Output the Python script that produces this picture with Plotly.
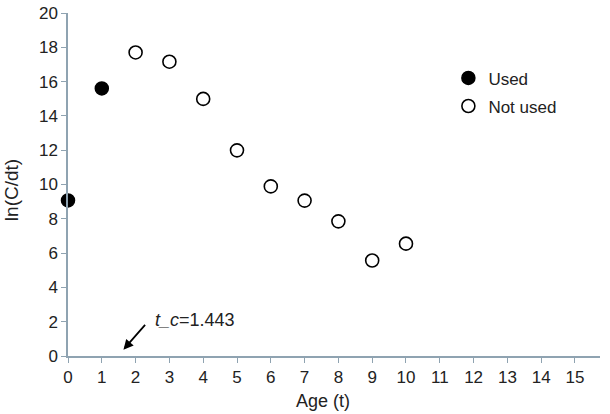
import plotly.graph_objects as go

age_used = [0, 1]
ln_used = [9.07, 15.6]
age_not_used = [2, 3, 4, 5, 6, 7, 8, 9, 10]
ln_not_used = [17.7, 17.16, 14.99, 11.99, 9.89, 9.06, 7.85, 5.57, 6.55]
x_ticks = list(range(0, 16))
y_ticks = list(range(0, 21, 2))
tc_label = "<i>t_c</i>=1.443"
x_title = "Age (t)"
y_title = "ln(C/dt)"

axis_color = "#8fa3b1"
fam = "Liberation Sans, Arial, sans-serif"
txt = "#222222"
font = dict(family=fam, size=17, color=txt)

fig = go.Figure()
fig.add_trace(go.Scatter(
    x=age_used, y=ln_used, mode="markers", name="Used", legendgroup="a",
    marker=dict(symbol="circle", size=13, color="black", line=dict(color="black", width=1.5)),
))
fig.add_trace(go.Scatter(
    x=age_not_used, y=ln_not_used, mode="markers", name="Not used", legendgroup="b",
    marker=dict(symbol="circle-open", size=13, color="black", line=dict(width=1.6)),
))

fig.add_annotation(
    x=1.64, y=0.37, ax=2.32, ay=1.9, xref="x", yref="y", axref="x", ayref="y",
    showarrow=True, arrowhead=2, arrowsize=1.1, arrowwidth=1.8, arrowcolor="black", text="",
)
fig.add_annotation(
    x=2.52, y=2.1, xref="x", yref="y", text=tc_label, showarrow=False,
    xanchor="left", yanchor="middle", font=dict(family=fam, size=18, color=txt),
)
# axis titles
fig.add_annotation(
    x=0.479, y=-0.131, xref="paper", yref="paper", text=x_title, showarrow=False,
    xanchor="center", yanchor="middle", font=dict(family=fam, size=18, color=txt),
)
fig.add_annotation(
    x=-0.105, y=0.484, xref="paper", yref="paper", text=y_title, showarrow=False,
    textangle=-90, xanchor="center", yanchor="middle", font=dict(family=fam, size=19, color=txt),
)

fig.update_layout(
    width=610, height=414,
    margin=dict(l=68, r=10, t=13, b=58),
    paper_bgcolor="white", plot_bgcolor="white",
    font=font,
    showlegend=True,
    legend=dict(x=0.715, y=0.862, xanchor="left", yanchor="top", bgcolor="rgba(0,0,0,0)",
                traceorder="grouped", tracegroupgap=3, itemwidth=30,
                font=dict(family=fam, size=17, color=txt)),
    xaxis=dict(
        range=[0, 15.74], tickvals=x_ticks, ticktext=[str(v) for v in x_ticks],
        showline=True, linecolor=axis_color, linewidth=1.5, ticks="outside", ticklen=5,
        tickcolor=axis_color, showgrid=False, zeroline=False, automargin=False,
        tickfont=font,
    ),
    yaxis=dict(
        range=[0, 20], tickvals=y_ticks,
        showline=True, linecolor=axis_color, linewidth=1.5, ticks="outside", ticklen=5,
        tickcolor=axis_color, showgrid=False, zeroline=False, automargin=False,
        tickfont=font,
    ),
)
fig.update_traces(cliponaxis=False)

fig.write_html("out.html")
